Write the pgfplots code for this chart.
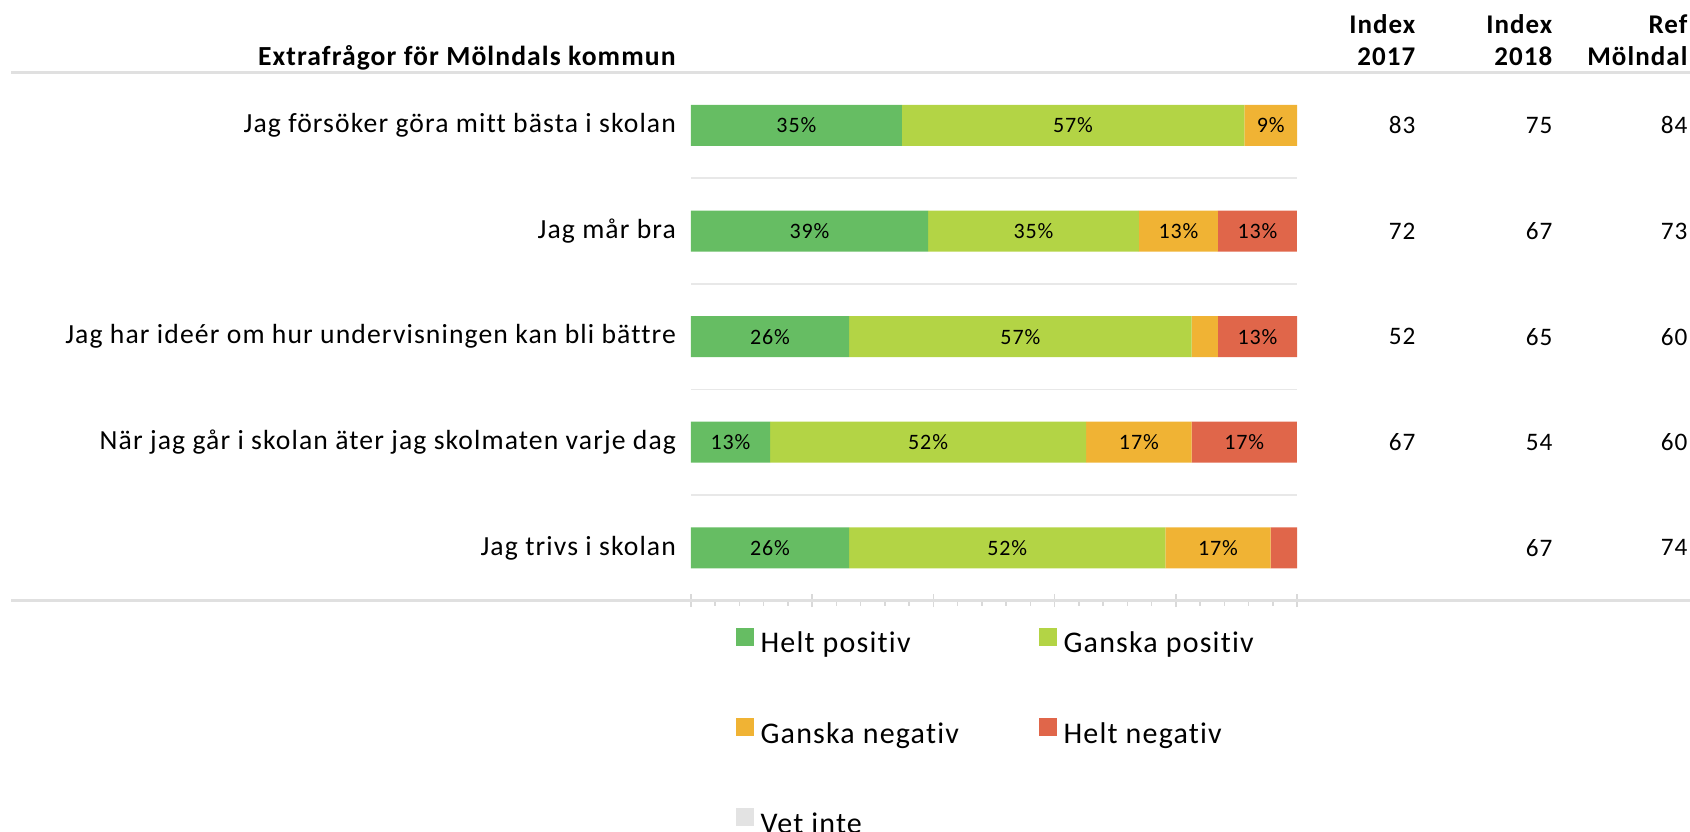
\documentclass[border=0pt]{standalone}
\usepackage{fontspec}
\setmainfont{Carlito}[LetterSpace=4, Ligatures={NoCommon,NoContextual}]
\usepackage{pgfplots}
\usepackage{pgfplotstable}
\pgfplotsset{compat=1.18}
\definecolor{cHP}{HTML}{66BD63}
\definecolor{cGP}{HTML}{B3D445}
\definecolor{cGN}{HTML}{F0B334}
\definecolor{cHN}{HTML}{E0664A}
\definecolor{cVI}{HTML}{E3E3E3}
\definecolor{linegray}{HTML}{E0E0E0}
\definecolor{sepgray}{HTML}{E8E8E8}
\definecolor{tickgray}{HTML}{D9D9D9}

\pgfplotstableread{
y hp gp gn hn vi lhp lgp lgn lhn
5 34.78 56.52 8.70 0 0 35\% 57\% 9\% {}
4 39.13 34.78 13.04 13.04 0 39\% 35\% 13\% 13\%
3 26.09 56.52 4.35 13.04 0 26\% 57\% {} 13\%
2 13.04 52.17 17.39 17.39 0 13\% 52\% 17\% 17\%
1 26.09 52.17 17.39 4.35 0 26\% 52\% 17\% {}
}\bars

\pgfplotstableread{
y a b c
5 83 75 84
4 72 67 73
3 52 65 60
2 67 54 60
1 {} 67 74
}\idx

\newcommand{\rowfont}{\fontsize{13.83}{16.5}\selectfont}
\newcommand{\numfont}{\fontsize{12.6}{15}\selectfont}
\newcommand{\hdrfont}{\bfseries\fontsize{13.5}{16}\selectfont}

\begin{document}
\begin{tikzpicture}
\path[use as bounding box] (-345.5pt,-115.2pt) rectangle (499.5pt,300.3pt);
\begin{axis}[
  at={(0pt,0pt)}, anchor=south west,
  width=303pt, height=264pt, scale only axis,
  xmin=0, xmax=100, ymin=0.5, ymax=5.5,
  xbar stacked, bar width=20.5pt,
  clip=false,
  axis line style={draw=none},
  xtick={0,20,...,100}, minor x tick num=4, xticklabels={}, xtick pos=left,
  tick align=center, major tick length=6.5pt, minor tick length=2.6pt,
  tick style={color=tickgray, line width=0.75pt},
  minor tick style={yshift=-1.3pt},
  ytick={1,2,3,4,5},
  yticklabels={Jag trivs i skolan, När jag går i skolan äter jag skolmaten varje dag, Jag har ideér om hur undervisningen kan bli bättre, Jag mår bra, Jag försöker göra mitt bästa i skolan},
  ytick style={draw=none},
  yticklabel style={anchor=east, inner sep=0pt, xshift=-4.1pt, font=\rowfont},
  minor ytick={1.5,2.5,3.5,4.5},
  yminorgrids=true,
  minor y grid style={color=sepgray, line width=0.75pt},
  legend columns=2,
  legend image code/.code={\fill[#1] (0pt,0pt) rectangle (9pt,9pt);},
  legend style={at={(rel axis cs:0,0)}, anchor=north west, xshift=22.5pt, yshift=-13.65pt,
    draw=none, fill=none, inner sep=0pt, outer sep=0pt,
    row sep=29.6pt, column sep=0pt,
    /tikz/every odd column/.append style={column sep=3.3pt},
    font=\fontsize{15}{18}\selectfont,
    nodes={inner sep=0pt, text height=10pt, text depth=3pt}},
]
\addplot[fill=cHP, draw=none] table[x=hp, y=y] {\bars};
\addlegendentry{\makebox[139.2pt][l]{Helt positiv}}
\addplot[fill=cGP, draw=none] table[x=gp, y=y] {\bars};
\addlegendentry{\makebox[139.2pt][l]{Ganska positiv}}
\addplot[fill=cGN, draw=none] table[x=gn, y=y] {\bars};
\addlegendentry{\makebox[139.2pt][l]{Ganska negativ}}
\addplot[fill=cHN, draw=none] table[x=hn, y=y] {\bars};
\addlegendentry{\makebox[139.2pt][l]{Helt negativ}}
\addplot[fill=cVI, draw=none] table[x=vi, y=y] {\bars};
\addlegendentry{\makebox[139.2pt][l]{Vet inte}}

\draw[linegray, line width=1.3pt] (axis cs:-112.2,5.5) -- (axis cs:164.9,5.5);
\draw[linegray, line width=1.3pt] (axis cs:-112.2,0.5) -- (axis cs:164.9,0.5);

\node[anchor=base east, inner sep=0pt, font=\bfseries\fontsize{13.8}{16}\selectfont] at ([yshift=3.5pt]axis cs:-2.48,5.5) {Extrafrågor för Mölndals kommun};
\node[anchor=base east, inner sep=0pt, font=\hdrfont] at ([yshift=19.5pt]axis cs:119.6,5.5) {Index};
\node[anchor=base east, inner sep=0pt, font=\hdrfont] at ([yshift=3.5pt]axis cs:119.6,5.5) {2017};
\node[anchor=base east, inner sep=0pt, font=\hdrfont] at ([yshift=19.5pt]axis cs:142.2,5.5) {Index};
\node[anchor=base east, inner sep=0pt, font=\hdrfont] at ([yshift=3.5pt]axis cs:142.2,5.5) {2018};
\node[anchor=base east, inner sep=0pt, font=\hdrfont] at ([yshift=19.5pt]axis cs:164.5,5.5) {Ref};
\node[anchor=base east, inner sep=0pt, font=\hdrfont] at ([yshift=3.5pt]axis cs:164.5,5.5) {Mölndal};
\end{axis}

\begin{axis}[
  at={(0pt,0pt)}, anchor=south west,
  width=303pt, height=264pt, scale only axis,
  xmin=0, xmax=100, ymin=0.5, ymax=5.5,
  hide axis, clip=false,
  point meta=explicit symbolic,
  nodes near coords,
  nodes near coords style={anchor=center, inner sep=0pt, text=black, font=\fontsize{11}{13}\selectfont},
]
\addplot[draw=none, mark=none] table[x expr=\thisrow{hp}/2, y=y, meta=lhp] {\bars};
\addplot[draw=none, mark=none] table[x expr=\thisrow{hp}+\thisrow{gp}/2, y=y, meta=lgp] {\bars};
\addplot[draw=none, mark=none] table[x expr=\thisrow{hp}+\thisrow{gp}+\thisrow{gn}/2, y=y, meta=lgn] {\bars};
\addplot[draw=none, mark=none] table[x expr=\thisrow{hp}+\thisrow{gp}+\thisrow{gn}+\thisrow{hn}/2, y=y, meta=lhn] {\bars};
\addplot[draw=none, mark=none, nodes near coords style={anchor=east, font=\numfont}] table[x expr=119.6, y=y, meta=a] {\idx};
\addplot[draw=none, mark=none, nodes near coords style={anchor=east, font=\numfont}] table[x expr=142.2, y=y, meta=b] {\idx};
\addplot[draw=none, mark=none, nodes near coords style={anchor=east, font=\numfont}] table[x expr=164.5, y=y, meta=c] {\idx};
\end{axis}
\end{tikzpicture}
\end{document}
